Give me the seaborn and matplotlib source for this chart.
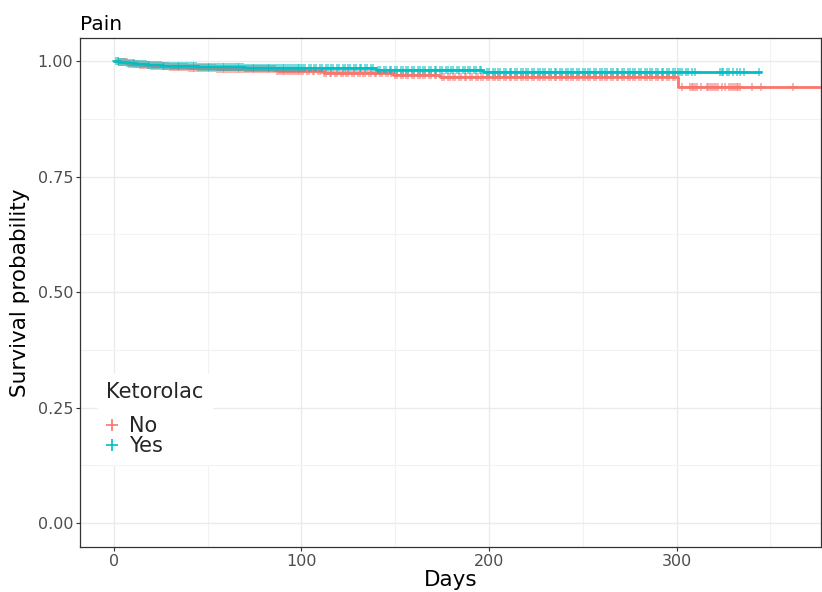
import numpy as np
import pandas as pd
import matplotlib
matplotlib.use("Agg")
import matplotlib.pyplot as plt
from matplotlib.lines import Line2D
import seaborn as sns

# ---- data ----
groups = ["No", "Yes"]
colors = {"No": "#F8766D", "Yes": "#00BFC4"}

no_times = [0, 3, 8, 14, 20, 30, 40, 55, 87, 112, 149, 174, 301, 380]
no_surv = [1.0, 0.997, 0.994, 0.991, 0.989, 0.987, 0.985, 0.983, 0.978, 0.974, 0.969, 0.966, 0.944, 0.944]

yes_times = [0, 3, 7, 12, 18, 26, 35, 45, 70, 100, 140, 197, 345]
yes_surv = [1.0, 0.997, 0.995, 0.993, 0.991, 0.990, 0.989, 0.988, 0.986, 0.984, 0.980, 0.977, 0.977]

no_censor = [2, 3, 4, 5, 6, 7, 8, 9, 10, 11, 12, 13, 14, 15, 16, 17, 18, 19, 20, 21, 22, 23, 24,
             25, 26, 27, 28, 29, 30, 31, 32, 33, 34, 35, 36, 37, 38, 39, 40, 41, 42, 43, 44, 45,
             46, 47, 48, 49, 50, 51, 52, 53, 54, 55, 56, 57, 58, 59, 60, 61, 62, 63, 64, 65, 66,
             67, 68, 69, 70, 71, 72, 73, 74, 75, 76, 77, 78, 79, 80, 81, 82, 83, 84, 85, 86, 87,
             88, 89, 90, 91, 92, 93, 94, 95, 96, 97, 98, 99, 100, 101, 103, 104, 106, 107, 109,
             110, 112, 113, 115, 116, 118, 119, 121, 122, 124, 125, 127, 128, 130, 131, 133, 134,
             136, 137, 139, 140, 142, 143, 145, 146, 148, 150, 151, 153, 154, 156, 157, 159, 160,
             162, 163, 165, 166, 168, 169, 171, 172, 175, 176, 178, 179, 181, 182, 184, 185, 187,
             188, 190, 191, 193, 194, 196, 197, 199, 200, 202, 203, 205, 206, 208, 209, 211, 212,
             214, 215, 217, 218, 220, 221, 223, 224, 226, 227, 229, 230, 232, 233, 235, 236, 238,
             239, 241, 242, 244, 245, 247, 248, 250, 251, 253, 254, 256, 257, 259, 260, 262, 263,
             265, 266, 268, 269, 271, 272, 274, 275, 277, 278, 280, 281, 283, 284, 286, 287, 289,
             290, 292, 293, 295, 296, 298, 299, 303, 307, 308, 309, 310, 311, 313, 316, 317, 318,
             319, 320, 321, 322, 324, 326, 328, 329, 330, 331, 332, 333, 334, 340, 345, 362]

yes_censor = [1, 2, 3, 4, 5, 6, 7, 8, 9, 10, 11, 12, 13, 14, 15, 16, 17, 18, 19, 20, 21, 22, 23,
              24, 25, 26, 27, 28, 29, 30, 31, 32, 33, 34, 35, 36, 37, 38, 39, 40, 41, 42, 43, 44,
              45, 46, 47, 48, 49, 50, 51, 52, 53, 54, 55, 56, 57, 58, 59, 60, 61, 62, 63, 64, 65,
              66, 67, 68, 69, 70, 71, 72, 73, 74, 75, 76, 77, 78, 79, 80, 81, 82, 83, 84, 85, 86,
              87, 88, 89, 90, 91, 92, 93, 94, 95, 96, 97, 98, 99, 100, 101, 102, 104, 105, 107,
              108, 110, 111, 113, 114, 116, 117, 119, 120, 122, 123, 125, 126, 128, 129, 131, 132,
              134, 135, 137, 138, 141, 142, 144, 145, 147, 148, 150, 151, 153, 154, 156, 157, 159,
              160, 162, 163, 165, 166, 168, 169, 171, 172, 174, 175, 177, 178, 180, 181, 183, 184,
              186, 187, 189, 190, 192, 193, 195, 196, 199, 200, 202, 203, 205, 206, 208, 209, 211,
              212, 214, 215, 217, 218, 220, 221, 223, 224, 226, 227, 229, 230, 232, 233, 235, 236,
              238, 239, 241, 242, 244, 245, 247, 248, 250, 251, 253, 254, 256, 257, 259, 260, 262,
              263, 265, 266, 268, 269, 271, 272, 274, 275, 277, 278, 280, 281, 283, 284, 286, 287,
              289, 290, 292, 293, 295, 296, 298, 299, 301, 302, 303, 305, 306, 308, 310, 323, 324,
              325, 327, 328, 330, 332, 334, 336, 344]

x_ticks = [0, 100, 200, 300]
y_ticks = [0.00, 0.25, 0.50, 0.75, 1.00]

# ---- build tables ----
curve = pd.concat([
    pd.DataFrame({"time": no_times, "surv": no_surv, "group": "No"}),
    pd.DataFrame({"time": yes_times, "surv": yes_surv, "group": "Yes"}),
], ignore_index=True)


def surv_at(times, surv, t):
    idx = np.searchsorted(np.asarray(times), np.asarray(t), side="right") - 1
    return np.asarray(surv)[idx]


cens = pd.concat([
    pd.DataFrame({"time": no_censor, "surv": surv_at(no_times, no_surv, no_censor), "group": "No"}),
    pd.DataFrame({"time": yes_censor, "surv": surv_at(yes_times, yes_surv, yes_censor), "group": "Yes"}),
], ignore_index=True)

# ---- plot ----
sns.set_theme(style="white")
plt.rcParams["font.family"] = ["DejaVu Sans"]

fig = plt.figure(figsize=(8.22, 5.92), dpi=100)
ax = fig.add_axes([80 / 822, 45 / 592, 741 / 822, 509 / 592])

for g in groups:
    sub = curve[curve.group == g]
    sns.lineplot(data=sub, x="time", y="surv", color=colors[g], drawstyle="steps-post",
                 estimator=None, linewidth=2, ax=ax, legend=False, zorder=3)
    sc = cens[cens.group == g]
    sns.scatterplot(data=sc, x="time", y="surv", color=colors[g], marker="+", s=32,
                    linewidth=1.1, alpha=0.7, ax=ax, legend=False, zorder=4)

ax.set_xlim(-18, 377)
ax.set_ylim(-0.052, 1.05)
ax.set_xticks(x_ticks)
ax.set_xticks([50, 150, 250, 350], minor=True)
ax.set_yticks(y_ticks)
ax.set_yticks([0.125, 0.375, 0.625, 0.875], minor=True)
ax.set_yticklabels([f"{v:.2f}" for v in y_ticks])
ax.grid(True, which="major", color="#EBEBEB", linewidth=1.0, zorder=0)
ax.grid(True, which="minor", color="#F2F2F2", linewidth=0.8, zorder=0)
ax.set_axisbelow(True)
for s in ax.spines.values():
    s.set_color("#333333")
    s.set_linewidth(0.9)
ax.tick_params(axis="both", which="major", labelsize=11.5, labelcolor="#4D4D4D",
               length=3, width=0.8, color="#333333", left=True, bottom=True, pad=2)
ax.tick_params(axis="both", which="minor", length=0)

ax.set_xlabel("Days", fontsize=15.5, color="black", labelpad=1)
ax.set_ylabel("Survival probability", fontsize=15.5, color="black", labelpad=5)
ax.set_title("Pain", loc="left", fontsize=14.5, color="black", pad=6)

handles = [Line2D([], [], marker="+", linestyle="none", color=colors[g], markersize=8,
                  markeredgewidth=1.2) for g in groups]
leg = ax.legend(handles, groups, title="Ketorolac", loc="upper left",
                bbox_to_anchor=(0.01, 0.361), fontsize=15, title_fontsize=15,
                frameon=True, framealpha=1, facecolor="white", edgecolor="white",
                handlelength=0.6, handletextpad=0.5, labelspacing=0.0, borderpad=0.4)
leg._legend_box.align = "left"
leg._legend_box.sep = 10

fig.savefig("out.png", dpi=100)
